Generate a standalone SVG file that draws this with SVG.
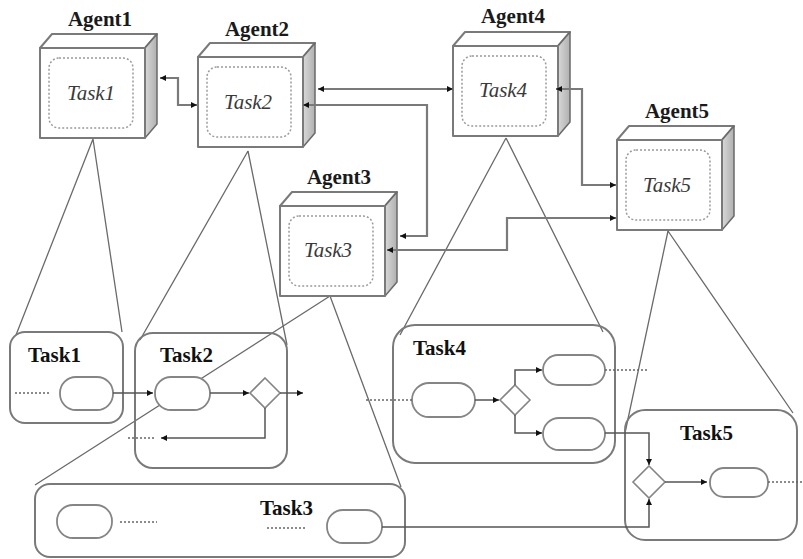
<svg xmlns="http://www.w3.org/2000/svg" xmlns:xlink="http://www.w3.org/1999/xlink" width="803" height="559" viewBox="0 0 803 559">
  <style>
    .face { fill: #ffffff; stroke: #7a7a7a; stroke-width: 2; stroke-linejoin: round; }
    .side { fill: url(#sideShade); stroke: #6a6a6a; stroke-width: 1.5; stroke-linejoin: round; }
    .inner { fill: none; stroke: #9a9a9a; stroke-width: 1.5; stroke-dasharray: 2 2; }
    .agent-label { font-family: "Liberation Serif", "Times New Roman", serif; font-weight: bold; font-size: 21px; fill: #1a1a1a; text-anchor: middle; }
    .agent-task { font-family: "Liberation Serif", "Times New Roman", serif; font-style: italic; font-size: 21px; fill: #3a3a3a; text-anchor: middle; }
    .task-box { fill: none; stroke: #7a7a7a; stroke-width: 2; }
    .task-label { font-family: "Liberation Serif", "Times New Roman", serif; font-weight: bold; font-size: 21px; fill: #111111; }
    .act { fill: #ffffff; stroke: #858585; stroke-width: 1.8; }
    .gate { fill: #ffffff; stroke: #858585; stroke-width: 1.6; }
    .proj { fill: none; stroke: #6a6a6a; stroke-width: 1.3; }
    .link { fill: none; stroke: #7a7a7a; stroke-width: 2.2; marker-start: url(#tip); marker-end: url(#tip); }
    .flow { fill: none; stroke: #555555; stroke-width: 1.5; marker-end: url(#tip); }
    .line { fill: none; stroke: #555555; stroke-width: 1.5; }
    .dots { fill: none; stroke: #666666; stroke-width: 1.6; stroke-dasharray: 2 2; }
  </style>
  <defs>
    <linearGradient id="sideShade" x1="0" y1="0" x2="1" y2="0">
      <stop offset="0" stop-color="#d8d8d8"/>
      <stop offset="1" stop-color="#b0b0b0"/>
    </linearGradient>
    <marker id="tip" markerUnits="userSpaceOnUse" markerWidth="7" markerHeight="7" refX="6" refY="3" orient="auto-start-reverse">
      <path d="M0,0 L6,3 L0,6 z" fill="#111111"/>
    </marker>
    <!-- agent cube: front face 105x90 with top and shaded right faces -->
    <g id="cube">
      <path class="face" d="M0,0 L12,-14 L117,-14 L105,0 z"/>
      <path class="side" d="M105,0 L117,-14 L117,76 L105,90 z"/>
      <rect class="face" x="0" y="0" width="105" height="90"/>
      <rect class="inner" x="9" y="10" width="84" height="70" rx="10"/>
    </g>
  </defs>

  <rect width="803" height="559" fill="#ffffff"/>

  <!-- projection lines from each agent down to its task model -->
  <g id="projections">
    <path class="proj" d="M93,139 L16,335 M93,139 L122,332"/>
    <path class="proj" d="M248,151 L140,340 M248,151 L287,345"/>
    <path class="proj" d="M330,296 L35,485 M330,296 L401,487"/>
    <path class="proj" d="M506,138 L400,335 M506,138 L603,332"/>
    <path class="proj" d="M668,231 L625,433 M668,231 L793,413"/>
  </g>

  <!-- agents -->
  <g id="agent1">
    <use xlink:href="#cube" transform="translate(40,48)"/>
    <text class="agent-label" x="100" y="26">Agent1</text>
    <text class="agent-task" x="91" y="100">Task1</text>
  </g>
  <g id="agent2">
    <use xlink:href="#cube" transform="translate(198,57)"/>
    <text class="agent-label" x="257" y="36">Agent2</text>
    <text class="agent-task" x="248" y="109">Task2</text>
  </g>
  <g id="agent3">
    <use xlink:href="#cube" transform="translate(280,206)"/>
    <text class="agent-label" x="339" y="184">Agent3</text>
    <text class="agent-task" x="328" y="257">Task3</text>
  </g>
  <g id="agent4">
    <use xlink:href="#cube" transform="translate(453,46)"/>
    <text class="agent-label" x="513" y="23">Agent4</text>
    <text class="agent-task" x="503" y="97">Task4</text>
  </g>
  <g id="agent5">
    <use xlink:href="#cube" transform="translate(617,140)"/>
    <text class="agent-label" x="677" y="118">Agent5</text>
    <text class="agent-task" x="667" y="192">Task5</text>
  </g>

  <!-- task models -->
  <g id="task1">
    <rect class="task-box" x="10" y="332" width="113" height="91" rx="15"/>
    <text class="task-label" x="28" y="362">Task1</text>
    <rect class="act" x="60" y="377" width="53" height="33" rx="16"/>
    <path class="dots" d="M15,393 H51"/>
  </g>
  <g id="task2">
    <rect class="task-box" x="135" y="333" width="152" height="135" rx="18"/>
    <text class="task-label" x="160" y="362">Task2</text>
    <rect class="act" x="155" y="377" width="55" height="33" rx="16"/>
    <path class="gate" d="M265,378 L280,393 L265,408 L250,393 z"/>
    <path class="dots" d="M128,438 H156"/>
  </g>
  <g id="task3">
    <rect class="task-box" x="35" y="484" width="370" height="73" rx="15"/>
    <text class="task-label" x="260" y="515">Task3</text>
    <rect class="act" x="57" y="505" width="55" height="33" rx="16"/>
    <rect class="act" x="327" y="510" width="55" height="33" rx="16"/>
    <path class="dots" d="M120,522 H157 M267,528 H305"/>
  </g>
  <g id="task4">
    <rect class="task-box" x="393" y="325" width="222" height="138" rx="22"/>
    <text class="task-label" x="413" y="355">Task4</text>
    <rect class="act" x="412" y="383" width="63" height="34" rx="17"/>
    <path class="gate" d="M515,385 L530,400 L515,415 L500,400 z"/>
    <rect class="act" x="543" y="355" width="62" height="30" rx="15"/>
    <rect class="act" x="543" y="418" width="62" height="32" rx="16"/>
    <path class="dots" d="M366,400 H412 M605,370 H648"/>
  </g>
  <g id="task5">
    <rect class="task-box" x="625" y="410" width="172" height="130" rx="20"/>
    <text class="task-label" x="680" y="440">Task5</text>
    <path class="gate" d="M649,466 L665,482 L649,498 L633,482 z"/>
    <rect class="act" x="710" y="468" width="58" height="29" rx="14"/>
    <path class="dots" d="M768,482 H803"/>
  </g>

  <!-- connectors -->
  <g id="connectors">
    <!-- agent to agent messaging -->
    <path class="link" d="M160,78 H178 V105 H197"/>
    <path class="link" d="M318,89 H453"/>
    <path class="link" d="M303,105 H427 V236 H400"/>
    <path class="link" d="M387,250 H507 V218 H616"/>
    <path class="link" d="M556,89 H582 V185 H616"/>
    <!-- control flow inside and between task models -->
    <path class="flow" d="M113,393 H153"/>
    <path class="flow" d="M210,393 H249"/>
    <path class="flow" d="M280,393 H303"/>
    <path class="flow" d="M265,408 V438 H161"/>
    <path class="flow" d="M475,400 H499"/>
    <path class="flow" d="M515,385 V370 H542"/>
    <path class="flow" d="M515,415 V433 H542"/>
    <path class="flow" d="M605,433 H649 V465"/>
    <path class="flow" d="M382,527 H649 V499"/>
    <path class="flow" d="M665,482 H707"/>
  </g>
</svg>
